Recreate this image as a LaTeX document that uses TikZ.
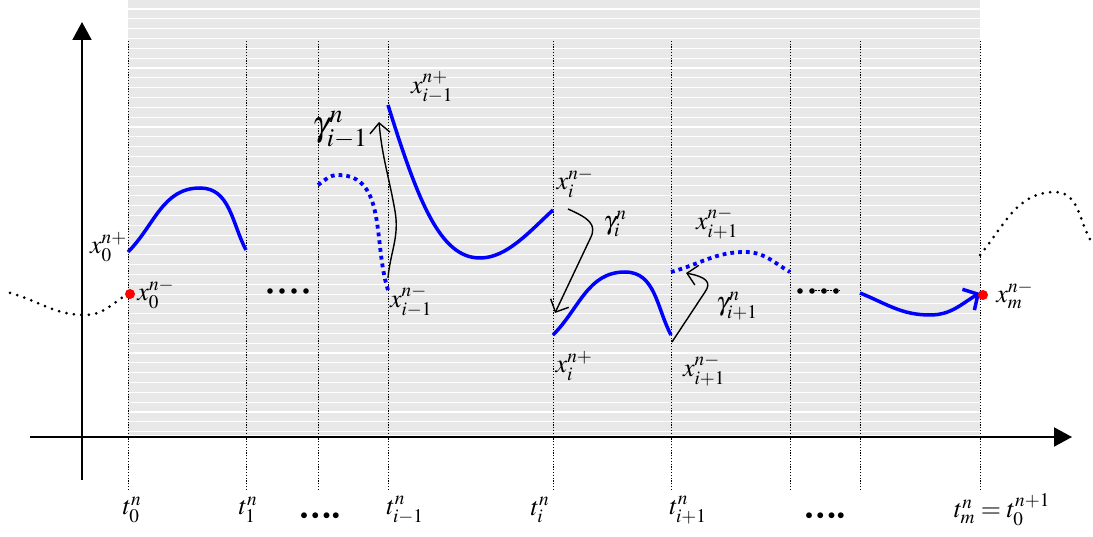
\documentclass[tikz,border=0pt]{standalone}
\usepackage{mathptmx}
\usetikzlibrary{arrows.meta}
\tikzset{
  band/.style={fill=black!9},
  stripe/.style={white, line width=1.1pt},
  grid line/.style={black, line width=0.9pt, dash pattern=on 1.2pt off 1.6pt},
  axis/.style={black, line width=2pt, -{Triangle[length=18pt,width=19pt]}},
  solid arc/.style={blue, line width=3.5pt},
  guess arc/.style={blue, line width=3.8pt, dash pattern=on 3.8pt off 4pt},
  trail/.style={black, line width=3pt, line cap=round, dash pattern=on 0pt off 7.5pt},
  jump/.style={black, line width=1.4pt, -{Straight Barb[length=10pt,width=20pt]}},
  sample/.style={circle, fill=red, inner sep=0pt, minimum size=10pt},
  lbl/.style={font=\fontsize{26}{30}\selectfont, inner sep=0pt},
  biglbl/.style={font=\fontsize{35}{40}\selectfont, inner sep=0pt},
  dots/.style={font=\fontsize{15}{18}\selectfont, inner sep=0pt}
}

\begin{document}
\begin{tikzpicture}[x=1pt,y=1pt]
\useasboundingbox (0,0) rectangle (1093,536);
% shaded window
\fill[band] (128,101) rectangle (980,536);
\foreach \k in {0,...,43}
  \draw[stripe] (128,527-9.83*\k) -- (980,527-9.83*\k);
% time levels
\foreach \xx in {128,246,318,388,553,671,790,860,980}
  \draw[grid line] (\xx,46) -- (\xx,496);
% axes
\draw[axis] (82,56) -- (82,514);
\draw[axis] (30,99) -- (1072,99);

% trajectory before and after the window
\draw[trail] (10,243) to[out=-15,in=180] (85,221) to[out=0,in=-150] (128,242);
\draw[trail] (980,281) to[out=50,in=180] (1055,344) to[out=0,in=125] (1093,292);

% solutions on the sub-intervals
\draw[solid arc] (128,284) to[out=45,in=180] (200,348) to[out=0,in=118] (246,286);
\draw[guess arc] (318,351) to[out=35,in=180] (338,361) to[out=0,in=108] (388,246);
\draw[solid arc] (388,431) .. controls (418,335) and (440,278) .. (480,278)
                 .. controls (507,278) and (530,305) .. (553,326);
\draw[solid arc] (553,201) to[out=45,in=180] (625,264) to[out=0,in=118] (671,201);
\draw[guess arc] (671,264) to[out=15,in=180] (745,284) to[out=0,in=150] (790,264);
\draw[solid arc, -{Straight Barb[length=11pt,width=24pt]}] (860,243) to[out=-22,in=180] (930,221) to[out=0,in=-150] (980,243);

% dots
\foreach \xx in {270,282,294,306}
  \fill (\xx,245) circle (2.8pt);
\foreach \xx in {800,812,824,836}
  \fill (\xx,245) circle (2.8pt);
\draw[black, line width=1pt, dash pattern=on 1.5pt off 1.5pt] (812,245) -- (840,245);

% jumps
\draw[jump] (388,258) to[out=85,in=-80] (395,325) to[out=100,in=-85] (379,414);
\draw[jump] (568,327) .. controls (588,318) and (598,312) .. (590,297) -- (555,223);
\draw[jump] (672,194) -- (705,244) .. controls (712,254) and (706,259) .. (686,263);

% samples
\node[sample] (x0) at (130,242) {};
\node[sample] (xm) at (983,241) {};

% labels
\node[lbl, anchor=east] (x0p) at (127,289) {$x_0^{n+}$};
\node[lbl, anchor=west] (x0n) at ([xshift=2pt]x0.east) {$x_0^{n-}$};
\node[lbl] (xim1p) at (432,449) {$x_{i-1}^{n+}$};
\node[lbl] (xim1n) at (411,235) {$x_{i-1}^{n-}$};
\node[lbl] (xin) at (575,353) {$x_i^{n-}$};
\node[lbl] (xip) at (574,170) {$x_i^{n+}$};
\node[lbl] (xip1a) at (717,313) {$x_{i+1}^{n-}$};
\node[lbl] (xip1b) at (704,166) {$x_{i+1}^{n-}$};
\node[lbl, anchor=west] (xmn) at ([xshift=8pt]xm.east) {$x_m^{n-}$};
\node[biglbl] (g1) at (340,406) {$\gamma_{i-1}^n$};
\node[lbl] (g2) at (615,312) {$\gamma_i^n$};
\node[lbl] (g3) at (737,230) {$\gamma_{i+1}^n$};

% time labels
\node[lbl] (t0) at (132,26) {$t_0^n$};
\node[lbl] (t1) at (248,26) {$t_1^n$};
\node[dots] (td1) at (320,20) {$\bullet\,\bullet\,\bullet\,\bullet$};
\node[lbl] (tim1) at (405,26) {$t_{i-1}^n$};
\node[lbl] (ti) at (540,26) {$t_i^n$};
\node[lbl] (tip1) at (688,26) {$t_{i+1}^n$};
\node[dots] (td2) at (825,20) {$\bullet\,\bullet\,\bullet\,\bullet$};
\node[lbl] (tm) at (1002,26) {$t_m^n = t_0^{n+1}$};
\end{tikzpicture}
\end{document}
